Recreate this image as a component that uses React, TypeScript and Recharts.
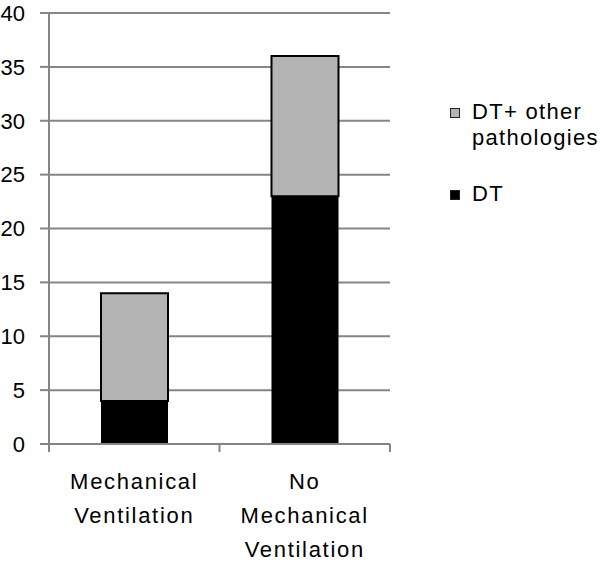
import { Bar, BarChart, CartesianGrid, XAxis, YAxis } from "recharts";

const categories = ["Mechanical Ventilation", "No Mechanical Ventilation"];
const tickLines = [["Mechanical", "Ventilation"], ["No", "Mechanical", "Ventilation"]];
const dtValues = [4, 23];
const otherValues = [10, 13];
const yTicks = [0, 5, 10, 15, 20, 25, 30, 35, 40];

const legendItems = [
  { key: "other", lines: ["DT+ other", "pathologies"], color: "#b4b4b4" },
  { key: "dt", lines: ["DT"], color: "#000000" },
];

const dados = categories.map((c, i) => ({ nome: c, dt: dtValues[i], outro: otherValues[i] }));

const W = 600;
const H = 563;
const M = { top: 13, right: 210, bottom: 0, left: 0 };
const X_H = 119;
const Y_W = 49;
const FONT = "'Liberation Sans', Arial, sans-serif";
const GRID = "#858585";

const banda = (W - M.left - M.right - Y_W) / categories.length;

function TickX(props: any) {
  const { x, y, index } = props;
  const linhas = tickLines[index] ?? [];
  return (
    <g>
      <line x1={x - banda / 2} x2={x - banda / 2} y1={y} y2={y + 8} stroke={GRID} strokeWidth={2} />
      {index === categories.length - 1 && (
        <line x1={x + banda / 2} x2={x + banda / 2} y1={y} y2={y + 8} stroke={GRID} strokeWidth={2} />
      )}
      <text x={x} y={y} textAnchor="middle" fontSize={22} fontFamily={FONT} fill="#000" letterSpacing={1.7}>
        {linhas.map((l, i) => (
          <tspan key={i} x={x} dy={i === 0 ? 45 : 34}>
            {l}
          </tspan>
        ))}
      </text>
    </g>
  );
}

// legenda fora do gráfico, para não roubar espaço da área de plotagem
function Legenda() {
  return (
    <div
      style={{
        position: "absolute",
        left: 450,
        top: 99,
        width: 150,
        fontFamily: FONT,
        fontSize: 22,
        lineHeight: "26px",
        letterSpacing: 1.3,
        color: "#000",
      }}
    >
      {legendItems.map((it, i) => (
        <div key={it.key} style={{ position: "relative", paddingLeft: 22, marginTop: i === 0 ? 0 : 30 }}>
          <span
            style={{
              position: "absolute",
              left: 0,
              top: 9,
              width: 8,
              height: 8,
              background: it.color,
              border: "1px solid #222",
            }}
          />
          {it.lines.map((l) => (
            <div key={l} style={{ whiteSpace: "nowrap" }}>
              {l}
            </div>
          ))}
        </div>
      ))}
    </div>
  );
}

export default function App() {
  return (
    <div style={{ position: "absolute", left: 0, top: 0, width: W, height: H, background: "#fff" }}>
      <BarChart width={W} height={H} data={dados} margin={M}>
        <CartesianGrid horizontal vertical={false} stroke={GRID} strokeWidth={2} />
        <XAxis
          dataKey="nome"
          height={X_H}
          tick={<TickX />}
          tickLine={false}
          tickSize={0}
          tickMargin={0}
          interval={0}
          axisLine={{ stroke: GRID, strokeWidth: 2 }}
        />
        <YAxis
          domain={[0, 40]}
          ticks={yTicks}
          width={Y_W}
          tickSize={9}
          tickMargin={15}
          tick={{ fontSize: 22, fontFamily: FONT, fill: "#000" }}
          tickLine={{ stroke: GRID, strokeWidth: 2 }}
          axisLine={{ stroke: GRID, strokeWidth: 2 }}
        />
        <Bar dataKey="dt" name="DT" stackId="a" fill="#000000" barSize={67} isAnimationActive={false} />
        <Bar
          dataKey="outro"
          name="DT+ other pathologies"
          stackId="a"
          fill="#b4b4b4"
          stroke="#000"
          strokeWidth={2}
          barSize={67}
          isAnimationActive={false}
        />
      </BarChart>
      <Legenda />
    </div>
  );
}
